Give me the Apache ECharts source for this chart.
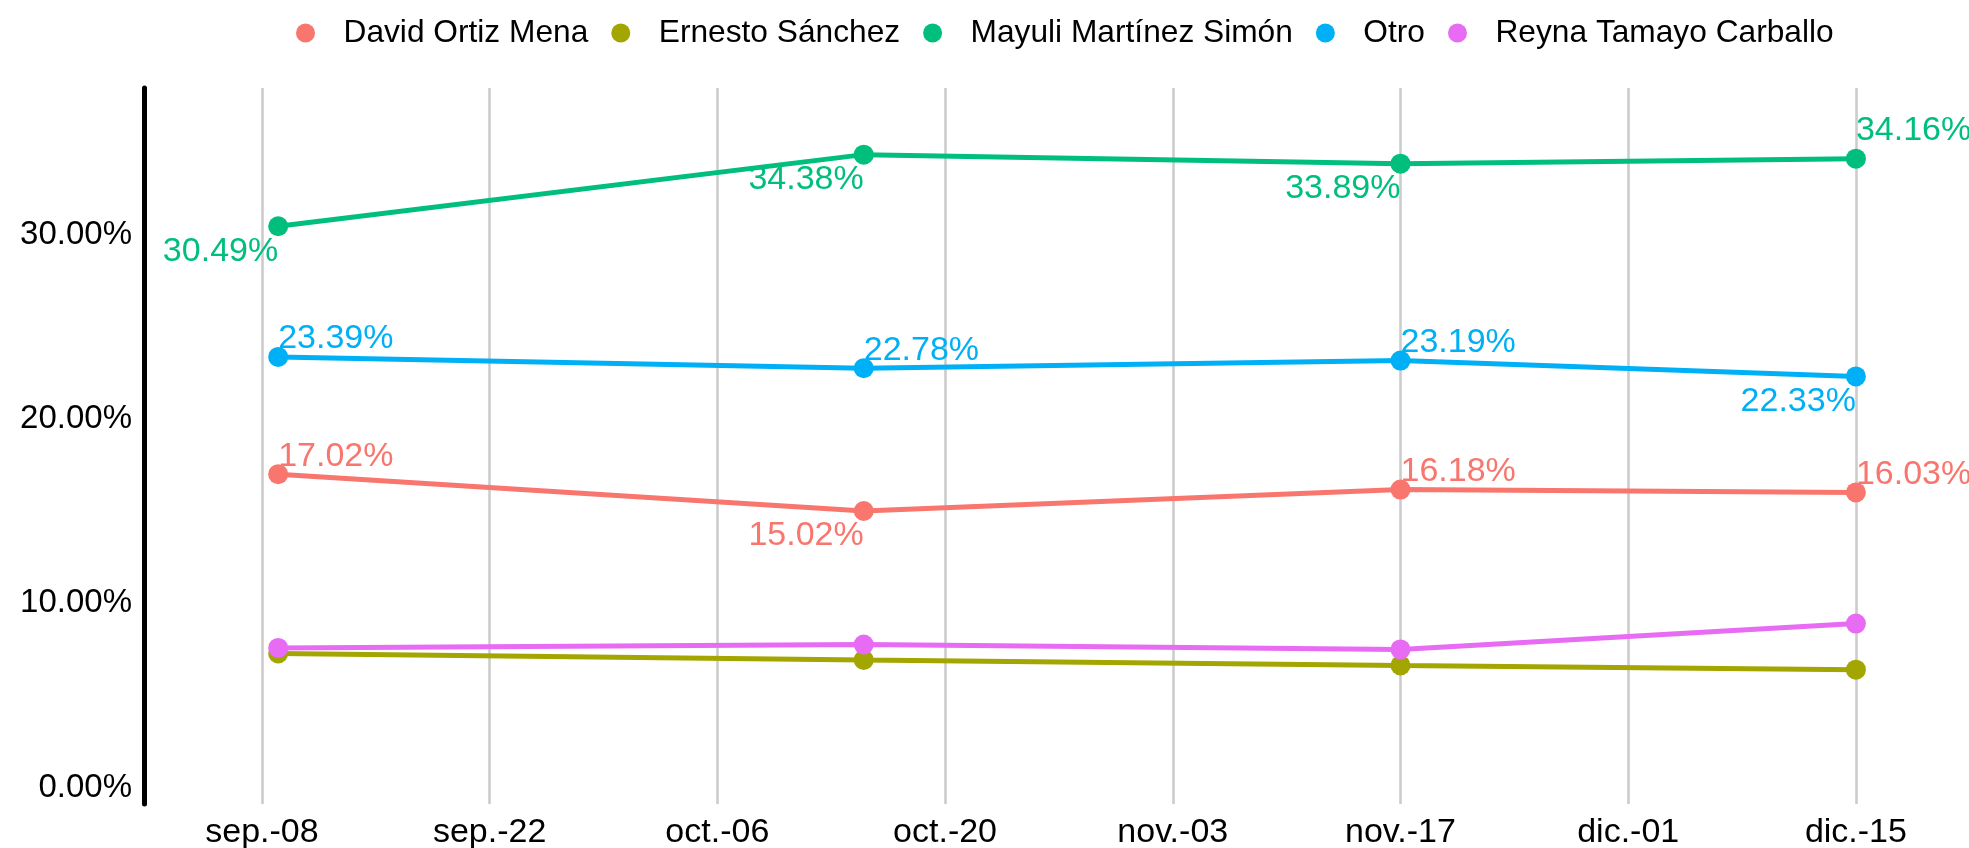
<!DOCTYPE html>
<html><head><meta charset="utf-8">
<script src="https://cdn.jsdelivr.net/npm/echarts@6/dist/echarts.min.js"></script>
<style>html,body{margin:0;padding:0;background:#fff}#c{width:1969px;height:848px}</style>
</head><body><div id="c"></div>
<script>
const seriesNames = ['David Ortiz Mena','Ernesto Sánchez','Mayuli Martínez Simón','Otro','Reyna Tamayo Carballo'];
const pollDates = ['2024-09-09','2024-10-15','2024-11-17','2024-12-15'];
const davidOrtiz = [17.02, 15.02, 16.18, 16.03];
const ernestoSanchez = [7.28, 6.93, 6.63, 6.40];
const mayuliMartinez = [30.49, 34.38, 33.89, 34.16];
const otro = [23.39, 22.78, 23.19, 22.33];
const reynaTamayo = [7.58, 7.76, 7.50, 8.90];
const xTickDates = ['2024-09-08','2024-09-22','2024-10-06','2024-10-20','2024-11-03','2024-11-17','2024-12-01','2024-12-15'];
const xTickLabels = ['sep.-08','sep.-22','oct.-06','oct.-20','nov.-03','nov.-17','dic.-01','dic.-15'];
const yTickValues = [0, 10, 20, 30];
const yTickLabels = ['0.00%','10.00%','20.00%','30.00%'];

// label placement (style only): 'a' = above-right of point, 'A' = a bit higher, 'b' = below-left, null = no label
const labelSides = [
  ['a','b','a','a'],
  null,
  ['b','b','b','A'],
  ['a','a','a','b'],
  null
];
const labelOffsets = { a: [0, -18], A: [0, -28], b: [0, 25] };
const colors = ['#F8766D','#A3A500','#00BF7D','#00B0F6','#E76BF3'];
const values = [davidOrtiz, ernestoSanchez, mayuliMartinez, otro, reynaTamayo];

// dates -> day number (UTC, avoids DST drift)
function dayNum(s){ const p = s.split('-').map(Number); return Math.round(Date.UTC(p[0], p[1]-1, p[2]) / 86400000); }
const base = dayNum(xTickDates[0]);
const xTickDays = xTickDates.map(d => dayNum(d) - base);
const FONT = '"Liberation Sans", Arial, Helvetica, sans-serif';

const series = seriesNames.map((name, si) => ({
  name: name,
  type: 'line',
  symbol: 'circle',
  symbolSize: 20,
  color: colors[si],
  lineStyle: { width: 5, color: colors[si] },
  itemStyle: { color: colors[si] },
  emphasis: { disabled: true },
  z: 3,
  data: pollDates.map((d, i) => {
    const item = { value: [dayNum(d) - base, values[si][i]] };
    const side = labelSides[si] ? labelSides[si][i] : null;
    if (side) {
      item.label = {
        show: true,
        position: 'inside',
        align: side === 'b' ? 'right' : 'left',
        verticalAlign: 'middle',
        offset: labelOffsets[side],
        formatter: p => p.value[1].toFixed(2) + '%',
        color: colors[si],
        fontSize: 34,
        fontFamily: FONT
      };
    } else {
      item.label = { show: false };
    }
    return item;
  })
}));

const chart = echarts.init(document.getElementById('c'), null, { renderer: 'canvas' });
chart.setOption({
  animation: false,
  backgroundColor: '#ffffff',
  legend: {
    data: seriesNames.map(n => ({ name: n, icon: 'circle' })),
    left: 291,
    top: 10,
    itemWidth: 66,
    itemHeight: 19,
    itemGap: 23,
    textStyle: { fontSize: 31.7, color: '#000', fontFamily: FONT, lineHeight: 36 }
  },
  grid: { left: 144, right: 9, top: 88, bottom: 44, containLabel: false, outerBoundsMode: 'none' },
  xAxis: {
    type: 'value',
    min: -7.25,
    max: 104.4,
    axisLine: { show: false },
    axisTick: { show: false, customValues: xTickDays },
    axisLabel: {
      customValues: xTickDays,
      formatter: v => { const i = xTickDays.indexOf(v); return i >= 0 ? xTickLabels[i] : ''; },
      fontSize: 34, color: '#000', fontFamily: FONT, margin: 12,
      hideOverlap: false
    },
    splitLine: { show: true, lineStyle: { color: '#cccccc', width: 2.6 } }
  },
  yAxis: {
    type: 'value',
    min: -0.9,
    max: 38,
    axisLine: { show: true, onZero: false, lineStyle: { color: '#000', width: 5 } },
    axisTick: { show: false, customValues: yTickValues },
    axisLabel: {
      customValues: yTickValues,
      formatter: v => { const i = yTickValues.indexOf(v); return i >= 0 ? yTickLabels[i] : ''; },
      fontSize: 33, color: '#000', fontFamily: FONT, margin: 12
    },
    splitLine: { show: false }
  },
  series: series
});
</script>
</body></html>
